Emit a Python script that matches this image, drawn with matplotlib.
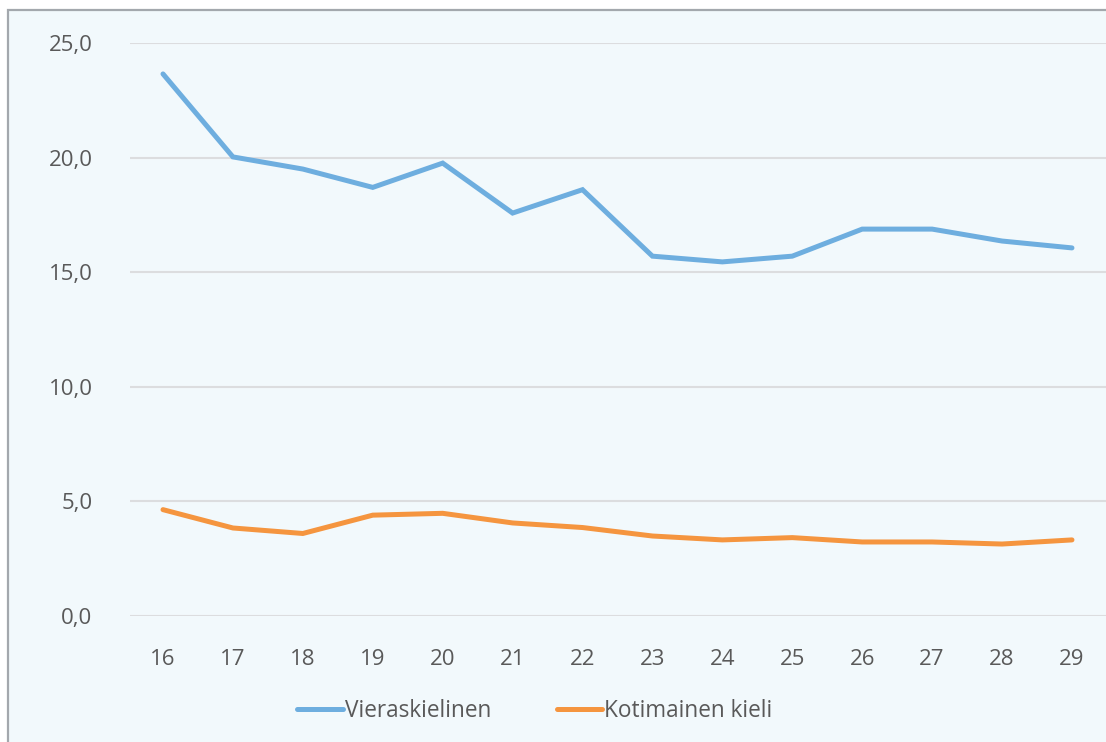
import matplotlib
matplotlib.use("Agg")
import matplotlib.pyplot as plt
from matplotlib.patches import Rectangle

ages = [16, 17, 18, 19, 20, 21, 22, 23, 24, 25, 26, 27, 28, 29]
vieraskielinen = [23.65, 20.03, 19.5, 18.7, 19.76, 17.58, 18.6, 15.7, 15.45, 15.7, 16.88, 16.88, 16.36, 16.06]
kotimainen = [4.64, 3.84, 3.6, 4.4, 4.48, 4.06, 3.86, 3.49, 3.32, 3.42, 3.23, 3.23, 3.14, 3.32]
series_names = ["Vieraskielinen", "Kotimainen kieli"]
yticks = [0, 5, 10, 15, 20, 25]

plt.rcParams['font.family'] = ['Open Sans', 'DejaVu Sans']
W, H = 1106, 742
fig = plt.figure(figsize=(W / 100, H / 100), dpi=100)
fig.patch.set_facecolor('white')
bg = '#F2F9FC'
text_col = '#595959'

# outer chart frame
fig.patches.append(Rectangle((7.5 / W, -0.05), 1.2, 1 - 9.5 / H + 0.05,
                             transform=fig.transFigure, facecolor=bg,
                             edgecolor='#A3A8AD', linewidth=1.6, zorder=-5))

ax = fig.add_axes([130 / W, 1 - 616 / H, (W - 130) / W, (616 - 43) / H])
ax.set_facecolor(bg)
ax.patch.set_alpha(0)

blue = '#6EAEDF'
orange = '#F5953F'
ax.plot(ages, vieraskielinen, color=blue, lw=3.6, solid_capstyle='round',
        solid_joinstyle='miter', label=series_names[0], zorder=3)
ax.plot(ages, kotimainen, color=orange, lw=3.6, solid_capstyle='round',
        solid_joinstyle='miter', label=series_names[1], zorder=3)

ax.set_ylim(0, 25)
ax.set_xlim(16 - 33 / 69.92, 16 + (W - 130 - 33) / 69.92)
ax.set_yticks(yticks)
ax.set_yticklabels([f"{v:.1f}".replace('.', ',') for v in yticks])
ax.set_xticks(ages)
ax.set_xticklabels([str(a) for a in ages])
ax.grid(axis='y', color='#DCDDDF', lw=1.5, zorder=1)
ax.set_axisbelow(True)
for s in ax.spines.values():
    s.set_visible(False)
ax.tick_params(axis='y', length=0, pad=27, labelsize=16, labelcolor=text_col)
ax.tick_params(axis='x', length=0, pad=24, labelsize=16, labelcolor=text_col)

leg = fig.legend(loc='center', bbox_to_anchor=(535 / W, 1 - 711 / H), ncol=2,
                 frameon=False, fontsize=16.3, handlelength=2.0, handletextpad=0.1,
                 columnspacing=2.9, labelcolor=text_col)

fig.savefig('out.png', dpi=100, facecolor='white')
